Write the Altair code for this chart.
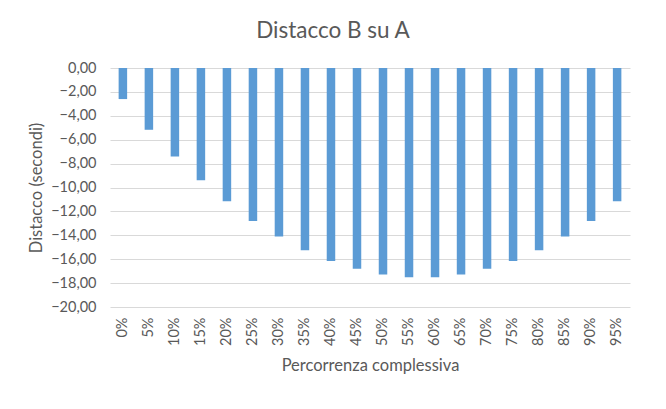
import altair as alt
import pandas as pd

categories = ["0%", "5%", "10%", "15%", "20%", "25%", "30%", "35%", "40%", "45%",
              "50%", "55%", "60%", "65%", "70%", "75%", "80%", "85%", "90%", "95%"]
values = [-2.6, -5.17, -7.4, -9.4, -11.16, -12.8, -14.1, -15.25, -16.15, -16.8,
          -17.27, -17.5, -17.5, -17.27, -16.8, -16.15, -15.25, -14.1, -12.8, -11.16]

df = pd.DataFrame({"cat": categories, "val": values})

FONT = "Lato"
GREY = "#595959"

chart = alt.Chart(df).mark_bar(color="#5B9BD5", size=8.5).encode(
    x=alt.X("cat:N", sort=categories,
            scale=alt.Scale(paddingInner=0.67, paddingOuter=0.33),
            axis=alt.Axis(title="Percorrenza complessiva", labelAngle=-90,
                          labelAlign="right", labelBaseline="middle",
                          labelPadding=10, ticks=False, domain=False,
                          labelFontSize=14.5, labelColor=GREY, labelFont=FONT,
                          titleFontSize=16.5, titleColor=GREY, titleFont=FONT,
                          titleFontWeight="normal", titlePadding=12)),
    y=alt.Y("val:Q", scale=alt.Scale(domain=[-20, 0], nice=False),
            axis=alt.Axis(title="Distacco (secondi)", values=list(range(-20, 1, 2)),
                          labelExpr="replace(format(datum.value, '.2f'), '.', ',')",
                          ticks=False, domain=False, grid=True, gridColor="#d9d9d9",
                          labelPadding=14, labelFontSize=14.5, labelColor=GREY,
                          labelFont=FONT, titleFontSize=16.5, titleColor=GREY,
                          titleFont=FONT, titleFontWeight="normal", titlePadding=6)),
).properties(
    width=520, height=239,
    title=alt.TitleParams("Distacco B su A", fontSize=22.5, color=GREY, font=FONT,
                          fontWeight="normal", anchor="middle", dx=-37, offset=18),
    autosize=alt.AutoSizeParams(type="none"),
    padding={"left": 110, "top": 68, "right": 36, "bottom": 102},
).configure_view(stroke=None)

chart.save("out.html", embed_options={"renderer": "svg", "actions": False})
